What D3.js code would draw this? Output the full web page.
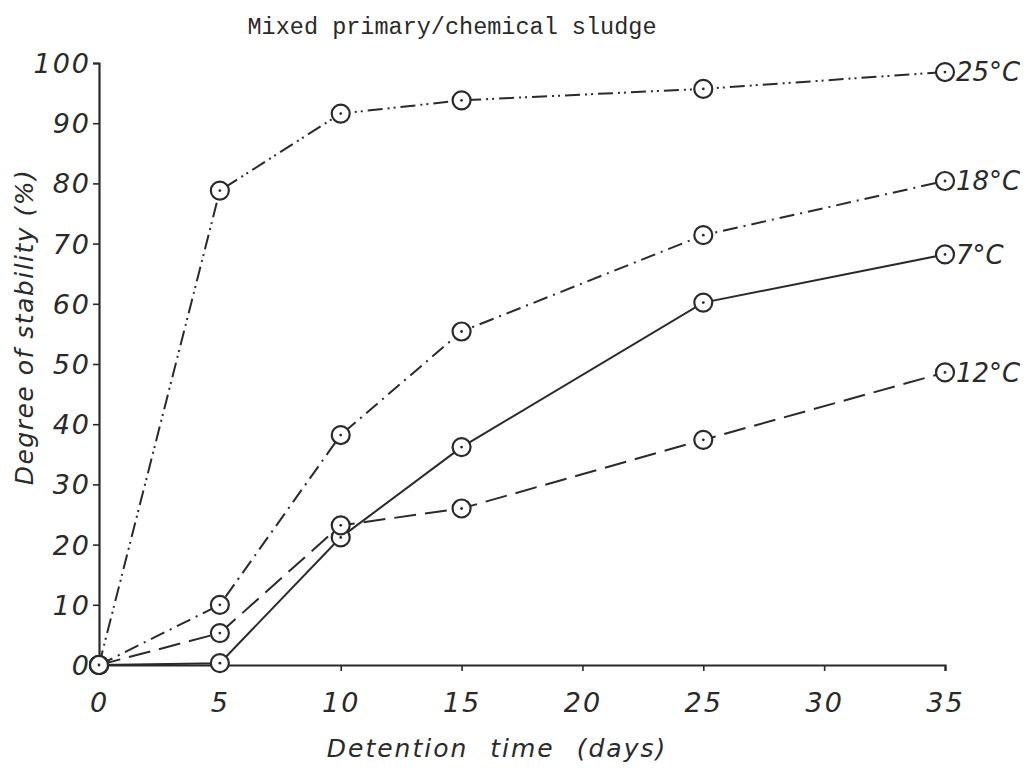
<!DOCTYPE html>
<html><head><meta charset="utf-8">
<script src="https://cdn.jsdelivr.net/npm/d3@7"></script>
<style>body{margin:0;background:#fff}svg{display:block}</style>
</head><body><div id="chart"></div>
<script>
const days = [0, 5, 10, 15, 25, 35];
const t25 = [0, 78.8, 91.6, 93.8, 95.7, 98.5];
const t18 = [0, 10.0, 38.2, 55.4, 71.4, 80.4];
const t7  = [0, 0.3, 21.2, 36.2, 60.2, 68.2];
const t12 = [0, 5.3, 23.2, 26.0, 37.4, 48.6];
const seriesNames = ["25°C", "18°C", "7°C", "12°C"];
const xTicks = [0, 5, 10, 15, 20, 25, 30, 35];
const yTicks = [0, 10, 20, 30, 40, 50, 60, 70, 80, 90, 100];

const series = [
  {name: seriesNames[0], vals: t25, dash: "15,5,2,4,2,5"},
  {name: seriesNames[1], vals: t18, dash: "15,6,2,6"},
  {name: seriesNames[2], vals: t7, dash: null},
  {name: seriesNames[3], vals: t12, dash: "22,9"}
];

const W = 1035, H = 770;
const ink = "#2a2a2a";
const svg = d3.select("#chart").append("svg").attr("width", W).attr("height", H);
const x = d3.scaleLinear().domain([0, 35]).range([99, 945]);
const y = d3.scaleLinear().domain([0, 100]).range([665, 63]);

// title
svg.append("text").attr("x", 452).attr("y", 34).attr("text-anchor", "middle")
  .attr("font-family", "'Liberation Mono', 'DejaVu Sans Mono', monospace")
  .attr("font-size", 23.5).attr("fill", ink).text("Mixed primary/chemical sludge");

const tickFont = "'DejaVu Sans', sans-serif";

// axes
const xAxis = svg.append("g").attr("transform", `translate(0,${y(0)})`)
  .call(d3.axisBottom(x).tickValues(xTicks).tickSize(6).tickFormat(d3.format("d")));
const yAxis = svg.append("g").attr("transform", `translate(${x(0)},0)`)
  .call(d3.axisLeft(y).tickValues(yTicks).tickSize(6).tickFormat(d3.format("d")));
[xAxis, yAxis].forEach(g => {
  g.select(".domain").attr("stroke", ink).attr("stroke-width", 2.2);
  g.selectAll(".tick line").attr("stroke", ink).attr("stroke-width", 1.6);
  g.selectAll(".tick text").attr("fill", ink).attr("font-family", tickFont)
    .attr("font-style", "italic").attr("font-weight", 300).attr("font-size", 27)
    .attr("letter-spacing", 2);
});
xAxis.selectAll(".tick text").attr("dy", "1.4em");
yAxis.selectAll(".tick text").attr("x", -8).attr("dy", "0.35em");

// axis titles
svg.append("text").attr("x", 497).attr("y", 757).attr("text-anchor", "middle")
  .attr("font-family", tickFont).attr("font-style", "italic").attr("font-size", 25)
  .attr("letter-spacing", 2).attr("word-spacing", 12).attr("fill", ink)
  .text("Detention time (days)");
svg.append("text").attr("transform", "translate(33,327) rotate(-90)").attr("text-anchor", "middle")
  .attr("font-family", tickFont).attr("font-style", "italic").attr("font-size", 25)
  .attr("letter-spacing", 1.5).attr("fill", ink)
  .text("Degree of stability (%)");

const line = d3.line().x((d, i) => x(days[i])).y(d => y(d));
const R = 9;

series.forEach(s => {
  svg.append("path").datum(s.vals).attr("d", line).attr("fill", "none")
    .attr("stroke", ink).attr("stroke-width", 2)
    .attr("stroke-dasharray", s.dash);
});
series.forEach(s => {
  const g = svg.append("g");
  g.selectAll("circle.m").data(s.vals).join("circle").attr("class", "m")
    .attr("cx", (d, i) => x(days[i])).attr("cy", d => y(d)).attr("r", R)
    .attr("fill", "#fff").attr("stroke", ink).attr("stroke-width", 2.2);
  g.selectAll("circle.c").data(s.vals).join("circle").attr("class", "c")
    .attr("cx", (d, i) => x(days[i])).attr("cy", d => y(d)).attr("r", 1.4)
    .attr("fill", ink);
  const last = s.vals[s.vals.length - 1];
  svg.append("text").attr("x", x(35) + R + 2).attr("y", y(last)).attr("dy", "0.36em")
    .attr("font-family", tickFont).attr("font-style", "italic").attr("font-weight", 300)
    .attr("font-size", 26).attr("fill", ink).text(s.name);
});
</script></body></html>
